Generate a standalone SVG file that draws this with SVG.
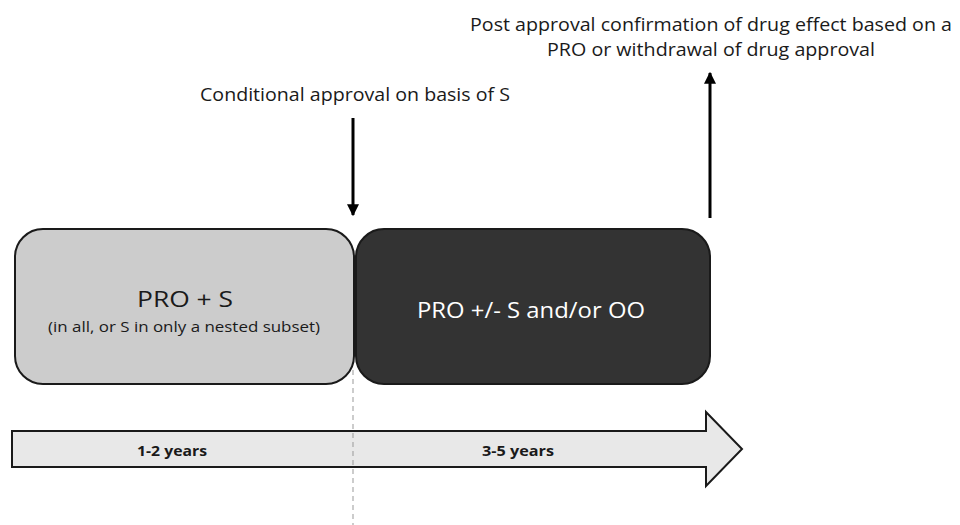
<svg xmlns="http://www.w3.org/2000/svg" width="960" height="525" viewBox="0 0 960 525">
<defs>
<style>
text{font-family:"Open Sans","Noto Sans","Liberation Sans",sans-serif;fill:#1a1a1a}
.lbl{font-size:18px}
.box{stroke:#1a1a1a;stroke-width:2}
.arr{stroke:#000;stroke-width:3;fill:none}
</style>
<marker id="ah" viewBox="0 0 10 10" refX="9" refY="5" markerWidth="4" markerHeight="4" orient="auto" markerUnits="strokeWidth">
<path d="M0,0L10,5L0,10Z" fill="#000"/>
</marker>
</defs>
<rect width="960" height="525" fill="#fff"/>
<g id="timeline">
<path d="M12,431H706V412L742,449L706,486V467H12Z" fill="#e8e8e8" stroke="#1a1a1a" stroke-width="2"/>
<text x="172" y="456" text-anchor="middle" font-size="15" font-weight="bold" textLength="70" lengthAdjust="spacingAndGlyphs">1-2 years</text>
<text x="518" y="456" text-anchor="middle" font-size="15" font-weight="bold" textLength="72" lengthAdjust="spacingAndGlyphs">3-5 years</text>
</g>
<line x1="353" y1="370" x2="353" y2="525" stroke="#999" stroke-width="1" stroke-dasharray="5,4"/>
<g id="box1">
<rect class="box" x="15" y="229" width="339" height="155" rx="28" fill="#cccccc"/>
<text x="185" y="307" text-anchor="middle" font-size="22" textLength="96" lengthAdjust="spacingAndGlyphs">PRO + S</text>
<text x="184" y="332" text-anchor="middle" font-size="14.5" textLength="272" lengthAdjust="spacingAndGlyphs">(in all, or S in only a nested subset)</text>
</g>
<g id="box2">
<rect class="box" x="356" y="229" width="354" height="155" rx="28" fill="#333333"/>
<text x="531" y="318" text-anchor="middle" font-size="22" style="fill:#fff" textLength="228" lengthAdjust="spacingAndGlyphs">PRO +/- S and/or OO</text>
</g>
<g id="label1">
<text class="lbl" x="355" y="101" text-anchor="middle" textLength="310" lengthAdjust="spacingAndGlyphs">Conditional approval on basis of S</text>
</g>
<g id="label2">
<text class="lbl" x="711" y="31" text-anchor="middle" textLength="482" lengthAdjust="spacingAndGlyphs">Post approval confirmation of drug effect based on a</text>
<text class="lbl" x="711" y="56" text-anchor="middle" textLength="328" lengthAdjust="spacingAndGlyphs">PRO or withdrawal of drug approval</text>
</g>
<g id="connectors">
<line class="arr" x1="353" y1="118" x2="353" y2="215" marker-end="url(#ah)"/>
<line class="arr" x1="710" y1="218" x2="710" y2="73" marker-end="url(#ah)"/>
</g>
</svg>
